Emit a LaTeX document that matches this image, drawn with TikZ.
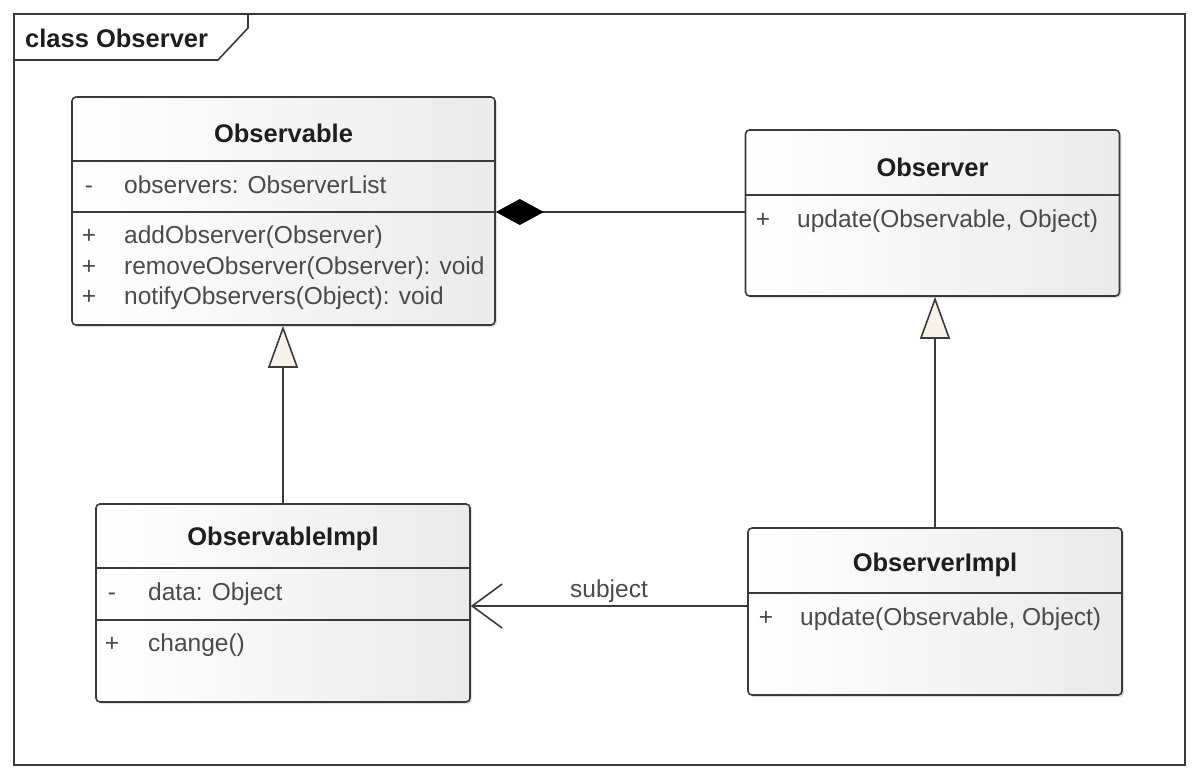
\documentclass[tikz,border=0pt]{standalone}
\usepackage{fontspec}
\setmainfont{Liberation Sans}
\usetikzlibrary{arrows.meta,shadows}
\definecolor{linec}{HTML}{3A3A3A}
\definecolor{txtc}{HTML}{4A4A4A}
\definecolor{titc}{HTML}{1E1E1E}
\definecolor{cream}{HTML}{F8F3EA}
\begin{document}
\begin{tikzpicture}[x=1pt,y=-1pt,
  classbox/.style={draw=linec, line width=1.6pt, rounded corners=4pt,
    left color=white, right color=gray!16,
    drop shadow={shadow xshift=2pt,shadow yshift=-2pt,opacity=0.25},
    inner sep=0pt},
  sepline/.style={draw=linec, line width=1.6pt},
  title/.style={font=\fontsize{25.5}{29}\selectfont\bfseries, text=titc, inner sep=0pt},
  mem/.style={font=\fontsize{24.5}{28}\selectfont, text=txtc, anchor=west, inner sep=0pt, text height=18pt, text depth=5pt},
  vis/.style={font=\fontsize{24.5}{28}\selectfont, text=txtc, anchor=center, inner sep=0pt, text height=18pt, text depth=5pt},
  comp/.style={draw=linec, line width=1.6pt, -{Diamond[length=48pt,width=26pt,fill=black,color=black]}},
  gen/.style={draw=linec, line width=1.6pt, -{Triangle[length=42pt,width=30pt,fill=cream]}},
  assoc/.style={draw=linec, line width=1.6pt, -{Straight Barb[length=30pt,width=44pt]}}
]
\useasboundingbox[fill=white] (0,0) rectangle (1198,779);

% frame
\draw[linec, line width=1.6pt] (14,14) rectangle (1185,765);
\draw[linec, line width=1.6pt, fill=white] (14,14) -- (248,14) -- (248,28) -- (218,60) -- (14,60) -- cycle;
\node[title, anchor=west] (frameLabel) at (25,38) {class Observer};

% Observable
\node[classbox, minimum width=423pt, minimum height=228pt] (Observable) at (283.5,211) {};
\draw[sepline] (Observable.west |- 0,161) -- (Observable.east |- 0,161);
\draw[sepline] (Observable.west |- 0,212) -- (Observable.east |- 0,212);
\node[title] (obsTitle) at (283.5,133) {Observable};
\node[vis] (obsA1v) at (89,187) {-};
\node[mem] (obsA1) at (124,187) {observers: ObserverList};
\node[vis] (obsM1v) at (89,237) {+};
\node[mem] (obsM1) at (124,237) {addObserver(Observer)};
\node[vis] (obsM2v) at (89,268) {+};
\node[mem] (obsM2) at (124,268) {removeObserver(Observer): void};
\node[vis] (obsM3v) at (89,298) {+};
\node[mem] (obsM3) at (124,298) {notifyObservers(Object): void};

% Observer
\node[classbox, minimum width=374pt, minimum height=166pt] (Observer) at (932.5,213) {};
\draw[sepline] (Observer.west |- 0,195) -- (Observer.east |- 0,195);
\node[title] (obrTitle) at (932.5,167) {Observer};
\node[vis] (obrM1v) at (763,221) {+};
\node[mem] (obrM1) at (797,221) {update(Observable, Object)};

% ObservableImpl
\node[classbox, minimum width=374pt, minimum height=198pt] (ObservableImpl) at (283,603) {};
\draw[sepline] (ObservableImpl.west |- 0,568) -- (ObservableImpl.east |- 0,568);
\draw[sepline] (ObservableImpl.west |- 0,620) -- (ObservableImpl.east |- 0,620);
\node[title] (oiTitle) at (283,539) {ObservableImpl};
\node[vis] (oiA1v) at (112,594) {-};
\node[mem] (oiA1) at (148,594) {data: Object};
\node[vis] (oiM1v) at (112,645) {+};
\node[mem] (oiM1) at (148,645) {change()};

% ObserverImpl
\node[classbox, minimum width=374pt, minimum height=167pt] (ObserverImpl) at (935,611.5) {};
\draw[sepline] (ObserverImpl.west |- 0,593) -- (ObserverImpl.east |- 0,593);
\node[title] (riTitle) at (935,565) {ObserverImpl};
\node[vis] (riM1v) at (766,619) {+};
\node[mem] (riM1) at (800,619) {update(Observable, Object)};

% connectors
\draw[comp] (Observer.west |- 0,212) -- (Observable.east |- 0,212);
\draw[gen] (ObservableImpl.north) -- (ObservableImpl.north |- Observable.south);
\draw[gen] (ObserverImpl.north) -- (ObserverImpl.north |- Observer.south);
\draw[assoc] (ObserverImpl.west |- 0,606) -- node[midway, above=3pt, font=\fontsize{24.5}{28}\selectfont, text=txtc, inner sep=0pt] (subj) {subject} (ObservableImpl.east |- 0,606);
\end{tikzpicture}
\end{document}
